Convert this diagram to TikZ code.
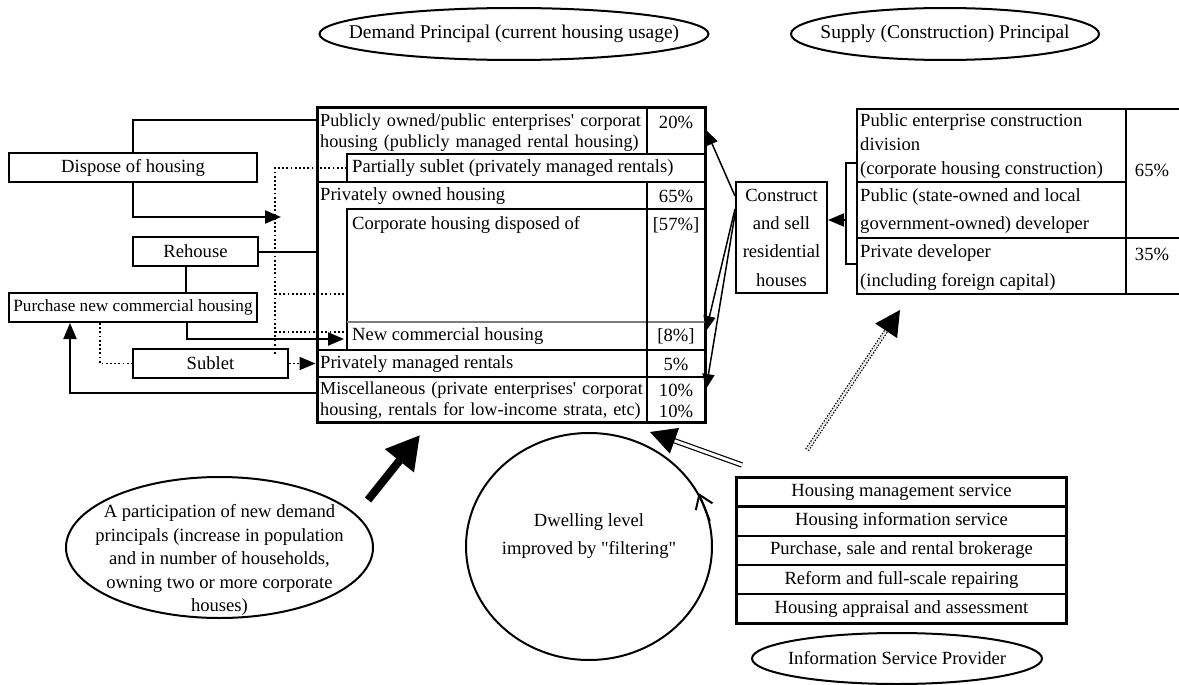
\documentclass[tikz,border=0pt]{standalone}
\usepackage{fontspec}
\setmainfont{Liberation Serif}[Ligatures=TeXOff]
\usetikzlibrary{arrows.meta, positioning, shapes.geometric}
\definecolor{rulegray}{RGB}{125, 125, 125}

\begin{document}
\begin{tikzpicture}[x=1pt, y=-1pt,
    font=\fontsize{18.6}{21}\selectfont,
    box/.style={draw, line width=2pt, inner sep=0pt, minimum height=29pt},
    txt/.style={inner sep=0pt, anchor=west, align=left},
    pct/.style={inner sep=0pt, align=center},
    oval/.style={draw, ellipse, line width=2pt, inner sep=0pt},
    svc/.style={draw, line width=1.2pt, minimum width=329pt, minimum height=28pt, inner sep=0pt},
    conn/.style={line width=2pt},
    arr/.style={-{Triangle[length=16pt, width=13pt]}, line width=2pt},
    thinarr/.style={-{Triangle[length=15pt, width=12pt]}, line width=1.5pt},
    dots/.style={line width=1.8pt, dash pattern=on 1.8pt off 2.4pt},
    thinrule/.style={line width=1.2pt},
    thickrule/.style={line width=2.6pt}
  ]
    \useasboundingbox (0,0) rectangle (1179,685);

    \node[oval, minimum width=389pt, minimum height=52pt,
          label={[font=\fontsize{19.5}{22}\selectfont]center:Demand Principal (current housing usage)}] (dem) at (514,34) {};
    \node[oval, minimum width=308pt, minimum height=52pt,
          label={[font=\fontsize{19.5}{22}\selectfont]center:Supply (Construction) Principal}] (sup) at (945,34) {};

    \node[draw, line width=3pt, minimum width=388pt, minimum height=314pt, inner sep=0pt] (dmd) at (511,265) {};
    \draw[thinrule] (705,154) -- (347,154) -- (347,182);
    \draw[thickrule] (317,182) -- (705,182);
    \draw[thinrule] (705,209) -- (347,209) -- (347,350);
    \draw[thinrule, rulegray] (347,322) -- (705,322);
    \draw[thickrule] (317,350) -- (705,350);
    \draw[thickrule] (317,377) -- (705,377);
    \draw[thinrule] (647,108) -- (647,154) (647,182) -- (647,422);

    \node[txt, text width=330pt, font=\fontsize{18.2}{21}\selectfont] (pub) at (320,132.5) {Publicly owned/public enterprises' corporat\\housing (publicly managed rental housing)};
    \node[pct] (pubp) at (676,122) {20\%};
    \node[txt] (psub) at (352,168) {Partially sublet (privately managed rentals)};
    \node[txt] (own) at (320,196) {Privately owned housing};
    \node[pct] (ownp) at (676,196) {65\%};
    \node[txt] (corp) at (352,225) {Corporate housing disposed of};
    \node[pct] (corpp) at (676,225) {[57\%]};
    \node[txt] (new) at (352,336) {New commercial housing};
    \node[pct] (newp) at (676,336) {[8\%]};
    \node[txt] (rent) at (320,364) {Privately managed rentals};
    \node[pct] (rentp) at (676,364) {5\%};
    \node[txt, text width=330pt, font=\fontsize{18.2}{21}\selectfont] (misc) at (320,401) {Miscellaneous (private enterprises' corporat\\housing, rentals for low-income strata, etc)};
    \node[pct] (miscp) at (676,401) {10\%\\10\%};

    \node[box, minimum width=248pt] (disp) at (133,167.5) {Dispose of housing};
    \node[box, minimum width=125pt] (reh) at (195.5,251.5) {Rehouse};
    \node[box, minimum width=248pt, font=\fontsize{17.2}{21}\selectfont] (purch) at (133,307.5) {Purchase new commercial housing};
    \node[box, minimum width=155pt] (sub) at (210.5,363.5) {Sublet};

    \coordinate (pubL) at (317,120);
    \coordinate (ownA) at (281,217);
    \coordinate (newA) at (344,339);
    \coordinate (miscL) at (317,393);
    \coordinate (subL) at (347,168);
    \coordinate (corpL) at (347,294);
    \coordinate (newL) at (347,332);
    \coordinate (dotB) at (275,355);

    \draw[conn] (disp.north) |- (pubL);
    \draw[arr] (disp.south) |- (ownA);
    \draw[conn] (reh.east) -- (reh.east -| dmd.west);
    \draw[conn] ([xshift=-9.5pt]reh.south) -- ([xshift=-9.5pt]reh.south |- purch.north);
    \draw[arr] ([xshift=54pt]purch.south) |- (newA);
    \draw[dots] ([xshift=-33pt]purch.south) |- (sub.west);
    \draw[dots, -{Triangle[length=16pt, width=13pt]}] (sub.east) -- (sub.east -| dmd.west);
    \draw[arr] (miscL) -| ([xshift=-63pt]purch.south);
    \draw[dots] (subL) -| (dotB);
    \draw[dots] (dotB |- corpL) -- (corpL);
    \draw[dots] (dotB |- newL) -- (newL);

    \node[box, minimum width=91pt, minimum height=111pt, align=center,
          font=\fontsize{18.6}{28.3}\selectfont] (cons) at (781.5,237.5) {Construct\\and sell\\residential\\houses};

    \node[draw, line width=2pt, minimum width=324pt, minimum height=185pt, inner sep=0pt, anchor=north west] (supt) at (856,108) {};
    \draw[line width=1.5pt] (856,182) -- (1126,182);
    \draw[line width=2pt] (856,238) -- (1180,238);
    \draw[line width=1.5pt] (1126,108) -- (1126,293);
    \node[txt, font=\fontsize{18.6}{24}\selectfont] (ped) at (860,146) {Public enterprise construction\\division\\(corporate housing construction)};
    \node[txt, font=\fontsize{18.6}{28}\selectfont] (pubd) at (860,211) {Public (state-owned and local\\government-owned) developer};
    \node[txt, font=\fontsize{18.6}{29}\selectfont] (prid) at (860,267.5) {Private developer\\(including foreign capital)};
    \node[pct] (pedp) at (1152,170) {65\%};
    \node[pct] (pridp) at (1152,254) {35\%};

    \coordinate (brk) at (846,220);
    \draw[conn] (856,163) -- (846,163) -- (846,264) -- (856,264);
    \draw[arr] (brk) -- (brk -| cons.east);

    \coordinate (pubR) at (706,130);
    \coordinate (newR) at (706,331);
    \coordinate (miscR) at (706,389);
    \draw[thinarr] ([yshift=-15pt]cons.north west) -- (pubR);
    \draw[thinarr] ([yshift=-28pt]cons.north west) -- (newR);
    \draw[thinarr] ([yshift=-33pt]cons.north west) -- (miscR);

    \node[svc] (svc1) at (901.5,492) {Housing management service};
    \node[svc, below=0pt of svc1] (svc2) {Housing information service};
    \node[svc, below=0pt of svc2] (svc3) {Purchase, sale and rental brokerage};
    \node[svc, below=0pt of svc3] (svc4) {Reform and full-scale repairing};
    \node[svc, below=0pt of svc4] (svc5) {Housing appraisal and assessment};
    \draw[line width=2.2pt] (svc1.north west) rectangle (svc5.south east);

    \node[oval, minimum width=290pt, minimum height=51pt,
          label={center:Information Service Provider}] (isp) at (897,658.5) {};

    \node[oval, minimum width=307pt, minimum height=141pt,
          label={[align=center, yshift=-12.5pt, font=\fontsize{18.6}{23.5}\selectfont]center:A participation of new demand\\principals (increase in population\\and in number of households,\\owning two or more corporate\\houses)}] (newd) at (219.5,547.5) {};

    \node[oval, minimum width=246pt, minimum height=227pt,
          label={[align=center, yshift=10pt, font=\fontsize{18.6}{28}\selectfont]center:Dwelling level\\improved by "filtering"}] (filt) at (589,546.5) {};
    \draw[line width=2pt, -{Straight Barb[length=13pt, width=18pt]}] (filt.12) -- (filt.26);

    \coordinate (bigT) at (368,500);
    \coordinate (bigH) at (420,435);
    \draw[line width=8pt, -{Triangle[length=33pt, width=35pt]}] (bigT) -- (bigH);

    \coordinate (dblT) at (742,465);
    \coordinate (dblH) at (650,432);
    \draw[double, double distance=3pt, line width=1.2pt, -{Triangle[length=26pt, width=27pt]}] (dblT) -- (dblH);

    \coordinate (dotT) at (807,450);
    \coordinate (dotH) at (900,310);
    \draw[double, double distance=2pt, line width=1.2pt, dash pattern=on 1.5pt off 1.5pt,
          -{Triangle[length=25pt, width=26pt]}] (dotT) -- (dotH);
  \end{tikzpicture}
\end{document}
